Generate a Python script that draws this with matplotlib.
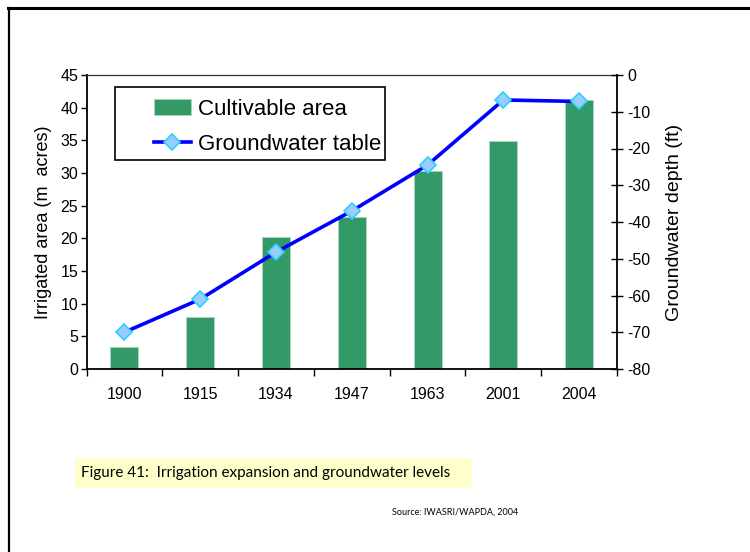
import matplotlib
matplotlib.use("Agg")
import matplotlib.pyplot as plt
from matplotlib.patches import Rectangle
from matplotlib.lines import Line2D
import numpy as np

years = ["1900", "1915", "1934", "1947", "1963", "2001", "2004"]
cultivable_area = [3.3, 7.9, 20.2, 23.3, 30.3, 34.9, 41.2]
groundwater_depth = [-70, -61, -48.2, -37, -24.5, -6.8, -7.2]
left_ticks = [0, 5, 10, 15, 20, 25, 30, 35, 40, 45]
right_ticks = [0, -10, -20, -30, -40, -50, -60, -70, -80]

plt.rcParams['font.family'] = ['Liberation Sans', 'DejaVu Sans']
plt.rcParams['axes.unicode_minus'] = False

W, H = 750, 552
fig = plt.figure(figsize=(7.5, 5.52), dpi=100)

def fx(px):
    return px / W

def fy(py):
    return 1 - py / H

# outer frame (top and left)
fig.add_artist(Line2D([fx(8), fx(750)], [fy(8), fy(8)], color='black', lw=2.2))
fig.add_artist(Line2D([fx(9), fx(9)], [fy(8), fy(552)], color='black', lw=1.6))

x0, x1, y0, y1 = 86.5, 617, 75, 369
ax = fig.add_axes([fx(x0), fy(y1), fx(x1 - x0), (y1 - y0) / H])
x = np.arange(len(years))
bars = ax.bar(x, cultivable_area, width=0.37, color='#339966',
              edgecolor='#a8d8bc', linewidth=0.6, zorder=2, label='Cultivable area')
ax.set_xlim(-0.5, len(years) - 0.5)
ax.set_ylim(0, 45)
ax.set_yticks(left_ticks)
ax.set_xticks(x)
ax.set_xticklabels(years)
ax.set_xticks(np.arange(-0.5, len(years)), minor=True)
ax.tick_params(axis='x', which='major', length=0, pad=13, labelsize=11.5)
ax.tick_params(axis='x', which='minor', length=5, width=1, direction='out')
ax.tick_params(axis='y', length=4, width=1, direction='out', labelsize=11.5, pad=2)
for s in ['left', 'bottom']:
    ax.spines[s].set_linewidth(1.3)
ax.spines['top'].set_linewidth(0.9)
ax.spines['top'].set_color('#333333')
ax.spines['right'].set_visible(False)
ax.set_ylabel('Irrigated area (m  acres)', fontsize=13, labelpad=6)

ax2 = ax.twinx()
line, = ax2.plot(x, groundwater_depth, color='#0000ff', lw=2.6, marker='D',
                 markersize=8.5, markerfacecolor='#99ccff', markeredgecolor='#33ccff',
                 markeredgewidth=1.2, label='Groundwater table', zorder=3)
ax2.set_ylim(-80, 0)
ax2.set_yticks(right_ticks)
ax2.tick_params(axis='y', length=9, width=1, direction='inout', labelsize=11.5, pad=3)
ax2.spines['right'].set_linewidth(1.3)
for s in ['left', 'top', 'bottom']:
    ax2.spines[s].set_visible(False)
ax2.set_ylabel('Groundwater depth (ft)', fontsize=14, labelpad=11)

# legend
fig.add_artist(Rectangle((fx(115), fy(160)), fx(385 - 115), (160 - 87) / H,
                         fill=True, facecolor='white', edgecolor='black', lw=1.2,
                         transform=fig.transFigure, zorder=5))
leg = fig.legend([bars, line], ['Cultivable area', 'Groundwater table'],
                 loc='upper left', bbox_to_anchor=(fx(138), fy(83)),
                 frameon=False, fontsize=16, handlelength=1.7, handletextpad=0.3,
                 labelspacing=0.65, borderpad=0.2)
leg.set_zorder(6)

# caption
fig.add_artist(Rectangle((fx(75), fy(488)), fx(472 - 75), (488 - 458) / H,
                         facecolor='#ffffcc', edgecolor='none',
                         transform=fig.transFigure, zorder=1))
fig.text(fx(81), fy(473), 'Figure 41:  Irrigation expansion and groundwater levels',
         fontsize=11, family=['Lato', 'DejaVu Sans'], va='center', ha='left', zorder=2)
fig.text(fx(392), fy(512), 'Source: IWASRI/WAPDA, 2004', fontsize=6.5,
         family=['Lato', 'DejaVu Sans'], va='center', ha='left')

fig.savefig('out.png', dpi=100)
